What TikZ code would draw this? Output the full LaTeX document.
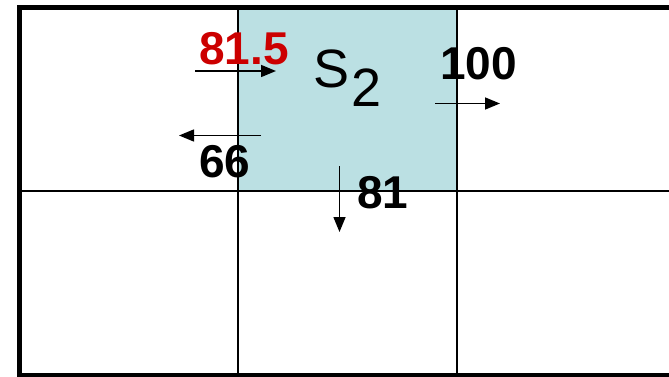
\documentclass[tikz,border=0pt]{standalone}
\usepackage{fontspec}
\setmainfont{Liberation Sans}
\usetikzlibrary{arrows.meta}
\definecolor{cellfill}{HTML}{BBE0E3}
\definecolor{valred}{HTML}{CC0000}
\tikzset{
  thick border/.style={line width=4.5pt, line cap=rect},
  thin grid/.style={line width=2pt},
  val/.style={font=\fontsize{46}{46}\selectfont\bfseries, inner sep=0pt, anchor=base},
  flow/.style={line width=1.5pt, -{Triangle[length=15pt,width=12pt]}}
}
\begin{document}
\begin{tikzpicture}[x=1pt,y=-1pt]
\useasboundingbox (0,0) rectangle (669,377);
\fill[white] (0,0) rectangle (669,377);
% shaded cell
\fill[cellfill] (238,9) rectangle (457,190);
% thin grid
\draw[thin grid] (238,7) -- (238,377);
\draw[thin grid] (457,7) -- (457,377);
\draw[thin grid] (20,190.5) -- (669,190.5);
% outer border
\draw[thick border] (680,7.5) -- (19.7,7.5) -- (19.7,375.5) -- (680,375.5);
% labels
\node[val, text=valred] (v815) at (244,65) {81.5};
\node[val] (v66) at (225,177) {66};
\node[val] (v100) at (478.5,80) {100};
\node[val] (v81) at (383,208) {81};
\node[font=\fontsize{54}{54}\selectfont, inner sep=0pt, anchor=base west] (s2) at (313,88) {S\kern2pt\raisebox{-19pt}{2}};
% arrows
\coordinate (a1s) at (195,71); \coordinate (a1e) at (276,71);
\coordinate (a2s) at (261,135.5); \coordinate (a2e) at (179,135.5);
\coordinate (a3s) at (435,103.5); \coordinate (a3e) at (500,103.5);
\coordinate (a4s) at (339.5,166); \coordinate (a4e) at (339.5,232);
\draw[flow] (a1s) -- (a1e);
\draw[flow] (a2s) -- (a2e);
\draw[flow] (a3s) -- (a3e);
\draw[flow] (a4s) -- (a4e);
\end{tikzpicture}
\end{document}
